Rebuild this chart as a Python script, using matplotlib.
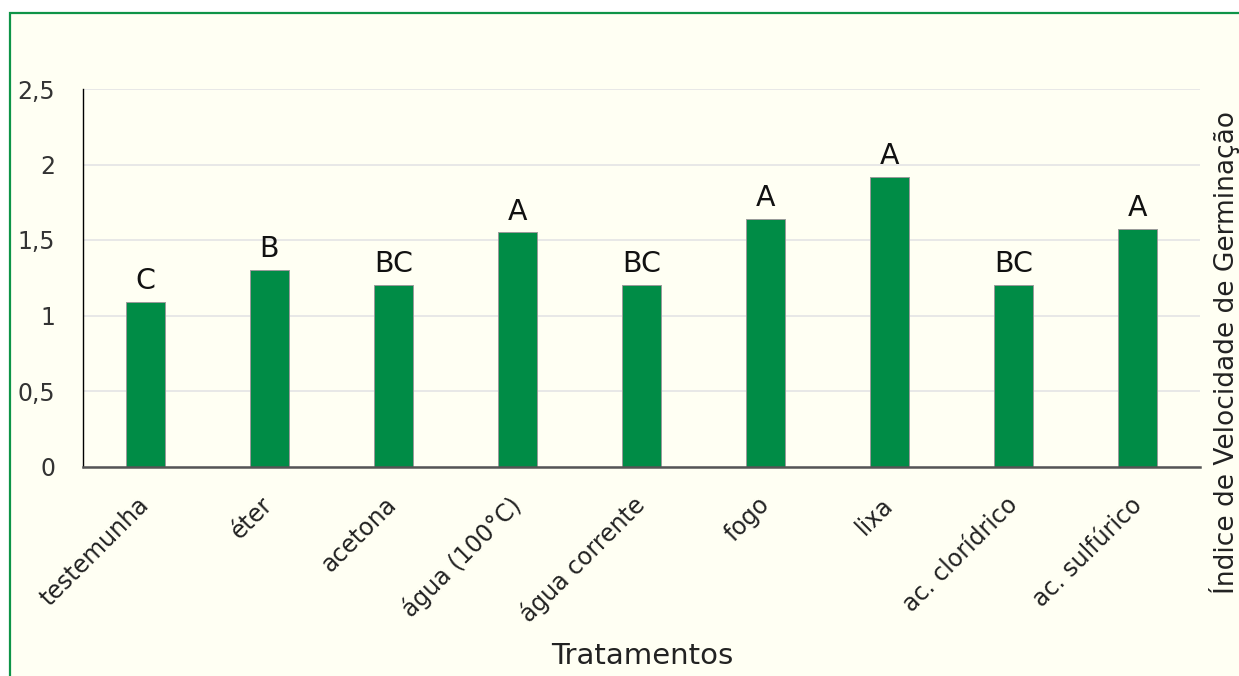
import matplotlib
matplotlib.use("Agg")
import matplotlib.pyplot as plt
from matplotlib.patches import Rectangle
from matplotlib.ticker import FuncFormatter
import numpy as np

categories = ["testemunha", "éter", "acetona", "água (100°C)", "água corrente",
              "fogo", "lixa", "ac. clorídrico", "ac. sulfúrico"]
values = [1.09, 1.30, 1.20, 1.55, 1.20, 1.64, 1.92, 1.20, 1.57]
letters = ["C", "B", "BC", "A", "BC", "A", "A", "BC", "A"]
yticks = [0, 0.5, 1, 1.5, 2, 2.5]

plt.rcParams['font.family'] = ['DejaVu Sans']

W, H = 1239, 676
fig = plt.figure(figsize=(W / 100, H / 100), dpi=100)
fig.patch.set_facecolor("white")

# cream panel with green frame
frame = Rectangle((10 / W, -0.05), 1.1, 1 - 13 / H + 0.05, transform=fig.transFigure,
                  facecolor="#FFFFF3", edgecolor="#0E9447", linewidth=1.6, zorder=-10)
fig.patches.append(frame)

ax = fig.add_axes([83 / W, 1 - 466.5 / H, (1200 - 83) / W, (466.5 - 89) / H])
ax.set_facecolor("none")
ax.set_zorder(2)

x = np.arange(len(categories))
bars = ax.bar(x, values, width=0.315, color="#008C46", edgecolor="#9A9A9A",
              linewidth=0.7, zorder=3)

for xi, v, lab in zip(x, values, letters):
    ax.annotate(lab, (xi, v), xytext=(0, 5), textcoords="offset points",
                ha="center", va="bottom", fontsize=20.5, color="#111111", zorder=4)

ax.set_xlim(-0.5, len(categories) - 0.5)
ax.set_ylim(0, 2.5)
ax.set_yticks(yticks)
ax.yaxis.set_major_formatter(FuncFormatter(lambda v, p: (f"{v:g}").replace(".", ",")))
ax.grid(axis="y", color="#E6E6E6", linewidth=1.3, zorder=0)
ax.set_axisbelow(True)

for s in ["top", "right"]:
    ax.spines[s].set_visible(False)
ax.spines["left"].set_color("black")
ax.spines["left"].set_linewidth(1.0)
ax.spines["bottom"].set_color("#555555")
ax.spines["bottom"].set_linewidth(1.8)
ax.spines["bottom"].set_zorder(5)

ax.tick_params(axis="y", length=0, pad=20, labelsize=17, labelcolor="#333333")
ax.tick_params(axis="x", length=0, pad=25, labelsize=17, labelcolor="#222222")
ax.set_xticks(x)
ax.set_xticklabels(categories)
for t in ax.get_xticklabels():
    t.set_rotation(45)
    t.set_ha("right")
    t.set_va("center")
    t.set_rotation_mode("anchor")

fig.text(642 / W, 1 - 664 / H, "Tratamentos", ha="center", va="baseline",
         fontsize=21, color="#222222")
fig.text(1224 / W, 1 - 353 / H, "Índice de Velocidade de Germinação", rotation=90,
         ha="center", va="center", fontsize=19, color="#222222")

fig.savefig("out.png", dpi=100, facecolor=fig.get_facecolor())
